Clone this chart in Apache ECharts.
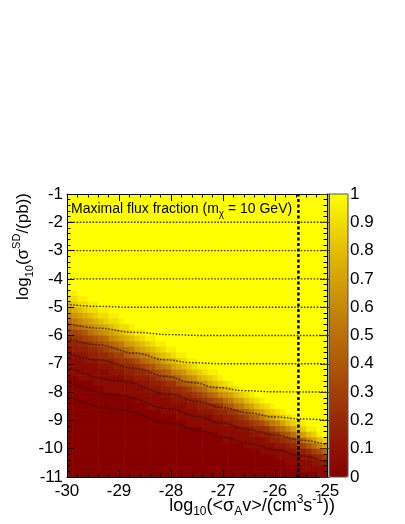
<!DOCTYPE html>
<html>
<head>
<meta charset="utf-8">
<title>Maximal flux fraction</title>
<script src="https://cdn.jsdelivr.net/npm/echarts@6.0.0/dist/echarts.min.js"></script>
<style>
  html, body { margin: 0; padding: 0; background: #fff; }
  #chart { width: 405px; height: 524px; }
</style>
</head>
<body>
<div id="chart"></div>
<script>
// axis ranges (log10 units)
const xMin = -30, xMax = -25
const yMin = -11, yMax = -1
const xStep = 0.1   // bin width in log10(<sigma_A v>)
const yStep = 0.2   // bin height in log10(sigma_SD)
const nRows = 50

// fraction level per char: index / 20
const levelChars = '0123456789abcdefghijk'

// one entry per column (x = -29.95 first):
// [first row of the ramp (row 0 is y = -1.1), levels going down]
// cells above the ramp are at 1, cells below it at 0
const heatCols = [
  [17, 'jigeca864321111'],
  [17, 'jihfdb965332111'],
  [18, 'jigeca754321111'],
  [18, 'jihfdb864322111'],
  [19, 'jigeca75432111'],
  [19, 'jihfdb864321111'],
  [20, 'jigec975432111'],
  [20, 'jihfda864321111'],
  [21, 'jigec975322111'],
  [21, 'jihfda86432111'],
  [22, 'jigeb965321111'],   // -28.95
  [23, 'ihfda85432111'],
  [23, 'jigeb96432111'],
  [24, 'jhfda75432111'],
  [24, 'jigeb96432111'],
  [25, 'jhfca75322111'],
  [25, 'jigeb86432111'],
  [26, 'jhfca7532111'],
  [26, 'jigeb86432111'],
  [27, 'jhfc97532111'],
  [27, 'jigeb8543211'],     // -27.95
  [28, 'jhfc97432111'],
  [28, 'jigdb8542111'],
  [29, 'jhfc96432111'],
  [29, 'jigda8532111'],
  [30, 'jhfc9643211'],
  [30, 'jigda7532111'],
  [31, 'jhfc9642111'],
  [31, 'jigda743211'],
  [32, 'jhfc8542111'],
  [33, 'igda7432111'],      // -26.95
  [33, 'jheb853211'],
  [34, 'igda643111'],
  [34, 'jheb853211'],
  [35, 'igd9642111'],
  [35, 'jheb853211'],
  [36, 'igd964211'],
  [36, 'jheb743111'],
  [37, 'igd953211'],
  [37, 'jheb74311'],
  [38, 'igc953211'],        // -25.95
  [38, 'jhea74211'],
  [39, 'igc853211'],
  [39, 'jhea64211'],
  [40, 'igc85311'],
  [40, 'jhea63211'],
  [41, 'jgc84211'],
  [41, 'jhea6321'],
  [42, 'jgc74211'],
  [43, 'he95311']
]

// dotted contour lines [x, y]
const contourM2 = [[-30, -2], [-25, -2]]
const contourM3 = [[-30, -3], [-25, -3]]
const contourM4 = [[-30, -4], [-25, -4]]
const contourM5 = [[-30, -4.9], [-29.4, -4.97], [-28.8, -5.0], [-25, -5.0]]
const contourM6 = [[-30, -5.57], [-29.4, -5.74], [-28.7, -5.89], [-28.0, -5.97], [-27.4, -6.0], [-25, -6.0]]
const contourM7 = [[-30, -6.1], [-29.4, -6.33], [-28.7, -6.62], [-28.1, -6.86], [-27.6, -6.96], [-27.0, -7.0], [-25, -7.0]]
const contourM8 = [[-30, -6.61], [-29.4, -6.86], [-28.7, -7.16], [-28.1, -7.44], [-27.6, -7.66], [-27.1, -7.84], [-26.6, -7.95], [-26.0, -7.99], [-25, -8.0]]
const contourM9 = [[-30, -7.12], [-29.0, -7.6], [-28.0, -8.08], [-27.5, -8.33], [-27.0, -8.55], [-26.5, -8.74], [-26.0, -8.88], [-25.5, -8.95], [-25, -8.99]]
const contourM10 = [[-30, -7.63], [-29.0, -8.12], [-28.0, -8.6], [-27.5, -8.86], [-27.0, -9.1], [-26.5, -9.33], [-26.0, -9.52], [-25.5, -9.7], [-25, -9.86]]
const contourM11 = [[-30, -8.14], [-29.0, -8.62], [-28.0, -9.1], [-27.5, -9.34], [-27.0, -9.58], [-26.5, -9.82], [-26.0, -10.04], [-25.5, -10.25], [-25, -10.5]]
const contours = [contourM2, contourM3, contourM4, contourM5, contourM6, contourM7, contourM8, contourM9, contourM10, contourM11]

// vertical reference line
const relicX = -25.55

const paletteStops = ['#870000', '#8e1403', '#972905', '#a33f08', '#ae5709', '#ba6f0a', '#c5880a', '#d4a206', '#e2bd03', '#f1de01', '#ffff00']

const FONT = 'Liberation Sans, Arial, Helvetica, sans-serif'

// build cells
const heatData = []
heatCols.forEach(function (col, j) {
  const start = col[0]
  const ramp = col[1]
  const xc = xMin + xStep * (j + 0.5)
  for (let r = 0; r < nRows; r++) {
    let v
    if (r < start) v = 1
    else if (r < start + ramp.length) v = levelChars.indexOf(ramp[r - start]) / 20
    else v = 0
    heatData.push([xc, yMax - yStep * (r + 0.5), v])
  }
})

const renderCell = function (params, api) {
  const x = api.value(0)
  const y = api.value(1)
  const p0 = api.coord([x - xStep / 2, y + yStep / 2])
  const p1 = api.coord([x + xStep / 2, y - yStep / 2])
  return {
    type: 'rect',
    shape: {
      x: p0[0],
      y: p0[1],
      width: p1[0] - p0[0] + 0.6,
      height: p1[1] - p0[1] + 0.6
    },
    style: { fill: api.visual('color') }
  }
}

const frameAxis = function (pos, showLabel, isX) {
  return {
    type: 'value',
    gridIndex: 0,
    position: pos,
    min: isX ? xMin : yMin,
    max: isX ? xMax : yMax,
    interval: 1,
    z: 10,
    axisLine: { show: true, lineStyle: { color: '#000', width: 1 } },
    axisTick: { show: true, inside: true, length: 7, lineStyle: { color: '#000', width: 1 } },
    minorTick: { show: true, splitNumber: 5, length: 3.5, lineStyle: { color: '#000', width: 1 } },
    splitLine: { show: false },
    minorSplitLine: { show: false },
    axisLabel: {
      show: showLabel,
      color: '#000',
      fontSize: 17,
      fontFamily: FONT,
      margin: isX ? 6 : 4,
      showMinLabel: true,
      showMaxLabel: true
    }
  }
}

const contourSeries = contours.map(function (pts) {
  return {
    type: 'line',
    data: pts,
    xAxisIndex: 0,
    yAxisIndex: 0,
    showSymbol: false,
    silent: true,
    smooth: 0.4,
    smoothMonotone: 'x',
    z: 3,
    lineStyle: { color: 'rgba(30, 18, 0, 0.85)', width: 1.4, type: [1.6, 1.6] }
  }
})

const subSup = {
  m: { fontSize: 17, fontFamily: FONT, color: '#000', lineHeight: 24, verticalAlign: 'middle' },
  sb: { fontSize: 11, fontFamily: FONT, color: '#000', lineHeight: 7, verticalAlign: 'bottom' },
  sp: { fontSize: 11, fontFamily: FONT, color: '#000', lineHeight: 17, verticalAlign: 'top' }
}
const subSupX = {
  m: { fontSize: 18, fontFamily: FONT, color: '#000', lineHeight: 24, verticalAlign: 'middle' },
  sb: { fontSize: 12, fontFamily: FONT, color: '#000', lineHeight: 6, verticalAlign: 'bottom' },
  sp: { fontSize: 12, fontFamily: FONT, color: '#000', lineHeight: 17, verticalAlign: 'top' }
}
const subTitle = {
  m: { fontSize: 14, fontFamily: FONT, color: '#000', lineHeight: 20, verticalAlign: 'middle' },
  sb: { fontSize: 10, fontFamily: FONT, color: '#000', lineHeight: 6, verticalAlign: 'bottom' }
}

const option = {
  animation: false,
  backgroundColor: '#fff',
  grid: [
    { left: 67, top: 194, width: 260, height: 283, outerBoundsMode: 'none' },
    { left: 329, top: 194, width: 19, height: 283, outerBoundsMode: 'none' }
  ],
  xAxis: [
    frameAxis('bottom', true, true),
    frameAxis('top', false, true),
    { type: 'value', gridIndex: 1, min: 0, max: 1, show: false }
  ],
  yAxis: [
    frameAxis('left', true, false),
    frameAxis('right', false, false),
    {
      type: 'value',
      gridIndex: 1,
      position: 'right',
      min: 0,
      max: 1,
      interval: 0.1,
      z: 10,
      axisLine: { show: true, lineStyle: { color: '#555', width: 1 } },
      axisTick: { show: true, inside: true, length: 9, lineStyle: { color: '#333', width: 1 } },
      splitLine: { show: false },
      axisLabel: { color: '#000', fontSize: 17, fontFamily: FONT, margin: 2, showMinLabel: true, showMaxLabel: true }
    }
  ],
  visualMap: {
    type: 'continuous',
    seriesIndex: 0,
    dimension: 2,
    min: 0,
    max: 1,
    calculable: false,
    orient: 'vertical',
    left: 329,
    top: 194,
    itemWidth: 19,
    itemHeight: 283,
    padding: 0,
    text: null,
    hoverLink: false,
    inRange: { color: paletteStops }
  },
  graphic: [
    {
      type: 'rect',
      z: 100,
      shape: { x: 329, y: 194, width: 19, height: 283 },
      style: { fill: 'none', stroke: '#555', lineWidth: 1 }
    },
    {
      type: 'text',
      z: 100,
      x: 71,
      y: 209,
      style: {
        text: '{m|Maximal flux fraction (m}{sb|χ}{m| = 10 GeV)}',
        align: 'left',
        verticalAlign: 'middle',
        rich: subTitle
      }
    },
    {
      type: 'text',
      z: 100,
      x: 23,
      y: 193,
      rotation: Math.PI / 2,
      style: {
        text: '{m|log}{sb|10}{m|(σ}{sp|SD}{m|/(pb))}',
        align: 'right',
        verticalAlign: 'middle',
        rich: subSup
      }
    },
    {
      type: 'text',
      z: 100,
      x: 335,
      y: 506,
      style: {
        text: '{m|log}{sb|10}{m|(<σ}{sb|A}{m|v>/(cm}{sp|3}{m|s}{sp|-1}{m|))}',
        align: 'right',
        verticalAlign: 'middle',
        rich: subSupX
      }
    }
  ],
  series: [
    {
      type: 'custom',
      xAxisIndex: 0,
      yAxisIndex: 0,
      renderItem: renderCell,
      data: heatData,
      silent: true,
      clip: true,
      z: 2
    }
  ].concat(contourSeries).concat([
    {
      type: 'line',
      data: [[relicX, yMin], [relicX, yMax]],
      xAxisIndex: 0,
      yAxisIndex: 0,
      showSymbol: false,
      silent: true,
      z: 4,
      lineStyle: { color: '#000', width: 2.5, type: [3, 2.5] }
    }
  ])
}

const chart = echarts.init(document.getElementById('chart'), null, { renderer: 'canvas' })
chart.setOption(option)
</script>
</body>
</html>
